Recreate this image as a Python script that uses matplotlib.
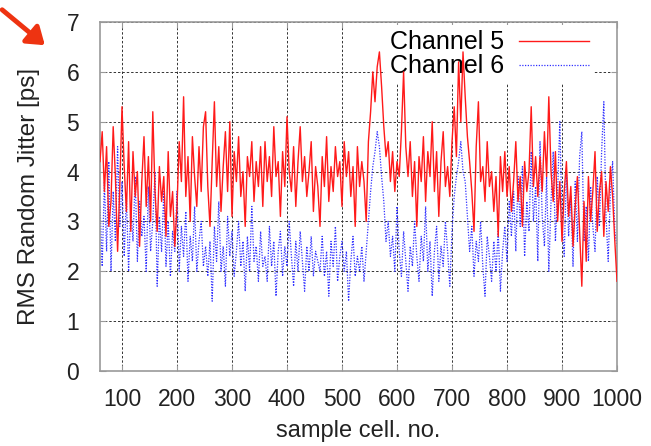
import numpy as np
import matplotlib
matplotlib.use("Agg")
import matplotlib.pyplot as plt
from matplotlib.patches import FancyArrowPatch

# sample cells, read every 4 cells off the picture
cells = np.arange(60, 1001, 4)

# channel 5, RMS random jitter [ps]
ch5 = [
    4.2, 4.8, 3.6, 4.5, 2.9, 3.4, 4.9, 3.9, 2.4, 3.7, 5.3, 4.1, 3.2, 4.6, 2.8, 4.4, 3.5, 4.0, 2.5, 3.8, 4.7, 3.3, 4.3, 3.0, 5.2,
    3.6, 2.8, 4.1, 3.4, 3.9, 2.7, 4.4, 3.1, 3.6, 2.5, 3.3, 4.6, 3.8, 5.5, 3.5, 4.3, 3.0, 4.7, 3.9, 3.3, 4.5, 3.6, 4.9, 5.2, 3.7,
    2.9, 4.2, 5.4, 3.7, 4.5, 3.2, 4.1, 4.8, 3.6, 5.0, 3.1, 4.4, 3.8, 4.7, 3.5, 4.0, 2.9, 4.3, 3.9, 4.6, 3.4, 4.2, 3.7, 4.5, 3.3,
    4.6, 3.8, 4.3, 3.5, 4.9, 3.9, 4.2, 3.1, 4.4, 3.7, 5.1, 4.0, 3.6, 4.5, 3.3, 4.2, 4.9, 3.8, 4.3, 3.5, 4.0, 4.6, 3.2, 4.1, 3.7,
    2.9, 4.3, 3.7, 4.7, 3.4, 4.1, 3.6, 4.5, 3.9, 4.2, 3.3, 4.6, 3.9, 4.4, 3.5, 4.1, 2.9, 4.5, 3.7, 4.2, 3.8, 3.0, 4.6, 5.2, 6.0,
    5.4, 6.1, 6.4, 5.7, 4.9, 4.3, 4.6, 3.8, 4.4, 3.6, 4.2, 3.9, 4.8, 6.0, 4.5, 3.9, 4.6, 3.5, 4.2, 2.9, 4.3, 3.8, 4.7, 3.4, 4.4,
    3.9, 5.0, 3.6, 4.4, 3.1, 4.2, 4.8, 3.7, 4.1, 3.5, 4.6, 5.3, 4.3, 6.2, 5.0, 6.4, 5.5, 4.7, 4.2, 3.6, 2.8, 4.5, 5.4, 3.8, 4.1,
    3.4, 4.6, 3.7, 4.0, 3.2, 3.9, 2.7, 4.3, 3.6, 4.4, 3.5, 4.1, 3.2, 3.8, 4.6, 3.4, 3.9, 2.9, 4.2, 3.6, 4.0, 5.3, 3.7, 4.3, 3.5,
    4.3, 3.6, 4.8, 3.9, 5.5, 4.0, 3.4, 4.4, 3.0, 3.8, 2.6, 3.6, 4.2, 3.1, 3.7, 2.5, 3.3, 3.9, 2.8, 1.7, 3.4, 2.2, 3.9, 3.0, 3.6,
    4.4, 2.8, 3.6, 4.0, 2.7, 3.8, 3.2, 4.1, 3.5, 2.6, 1.8,
]

# channel 6
ch6 = [
    3.3, 2.1, 3.8, 2.4, 4.2, 2.0, 3.6, 2.6, 4.5, 2.9, 3.8, 2.3, 3.5, 2.0, 3.3, 2.6, 3.9, 2.2, 3.4, 2.7, 3.1, 2.0, 3.7, 2.4, 3.0,
    4.0, 1.7, 3.1, 2.4, 3.6, 2.1, 3.0, 1.9, 2.8, 2.4, 3.6, 2.0, 2.9, 2.3, 3.2, 1.8, 2.7, 2.2, 3.3, 2.0, 2.6, 3.0, 2.1, 2.5, 1.9,
    2.6, 1.4, 2.9, 2.2, 3.4, 2.0, 2.5, 1.7, 3.1, 2.3, 2.8, 1.9, 2.4, 3.0, 2.1, 2.6, 1.6, 2.7, 2.0, 3.3, 2.2, 2.5, 1.8, 2.8, 2.1,
    2.3, 1.8, 2.9, 2.1, 2.6, 1.5, 2.4, 2.8, 1.9, 2.5, 2.1, 3.0, 2.3, 1.7, 2.6, 2.0, 2.8, 2.2, 1.6, 2.5, 2.0, 2.7, 1.9, 2.4, 2.2,
    2.0, 2.7, 1.9, 2.4, 1.5, 2.6, 2.1, 2.9, 1.8, 2.3, 2.6, 2.0, 2.4, 1.4, 2.2, 2.7, 1.9, 2.3, 2.0, 2.5, 1.8, 2.4, 3.0, 3.6, 4.1,
    4.4, 4.8, 4.5, 3.9, 3.4, 2.6, 3.0, 2.3, 2.7, 2.0, 3.3, 2.4, 1.9, 2.8, 2.2, 1.6, 2.5, 2.1, 3.0, 2.3, 1.8, 2.7, 2.2, 3.3, 2.0,
    2.6, 1.5, 2.4, 2.9, 1.8, 2.5, 2.1, 3.0, 2.4, 1.7, 2.8, 3.5, 3.9, 4.2, 4.6, 4.0, 3.8, 3.1, 2.4, 2.9, 1.9, 2.6, 2.2, 3.0, 2.1,
    1.5, 2.7, 2.3, 1.8, 2.6, 2.0, 2.8, 1.6, 2.4, 2.9, 2.2, 3.4, 2.7, 3.6, 2.4, 3.9, 2.9, 4.1, 2.3, 3.4, 2.8, 4.4, 3.0, 3.7, 2.2,
    4.6, 3.1, 2.5, 3.9, 2.0, 3.4, 4.4, 2.6, 3.6, 5.0, 3.0, 2.3, 4.0, 2.7, 3.5, 2.1, 3.8, 2.6, 4.3, 4.8, 2.6, 3.3, 2.2, 3.7, 2.9,
    2.4, 3.9, 2.9, 4.4, 5.4, 3.1, 2.2, 3.6, 4.2, 2.8, 2.5,
]

xticks = [100, 200, 300, 400, 500, 600, 700, 800, 900, 1000]
yticks = [0, 1, 2, 3, 4, 5, 6, 7]

plt.rcParams["font.family"] = ["Liberation Sans", "DejaVu Sans"]

fig = plt.figure(figsize=(6.51, 4.46), dpi=100)
ax = fig.add_axes([0.1536, 0.1682, 0.7942, 0.7825])

ax.plot(cells, ch5, color="#ff1a1a", lw=1.0, label="Channel 5", zorder=3)
ax.plot(cells, ch6, color="#3030ff", lw=0.9, ls=(0, (1, 1.2)), label="Channel 6", zorder=2.5)

ax.set_xlim(60, 1000)
ax.set_ylim(0, 7)
ax.set_xticks(xticks)
ax.set_yticks(yticks)
ax.tick_params(direction="in", length=4, top=True, right=True,
               labelsize=16.5, colors="#999999", labelcolor="#222222")
ax.tick_params(axis="x", pad=12)
ax.tick_params(axis="y", pad=15)
for s in ax.spines.values():
    s.set_color("#999999")
    s.set_linewidth(1.2)

ax.set_axisbelow(True)
ax.grid(True, color="#333333", ls=(0, (2.5, 2)), lw=0.7)

ax.set_xlabel("sample cell. no.", fontsize=17, color="#222222", labelpad=7)
ax.set_ylabel("RMS Random Jitter [ps]", fontsize=17.5, color="#222222")
ax.yaxis.set_label_coords(-0.117, 0.5)

leg = ax.legend(loc="upper right", markerfirst=False, frameon=True, fontsize=18,
                handlelength=2.8, handletextpad=0.6, labelspacing=0.0,
                borderpad=0.2, borderaxespad=0.0, fancybox=False, framealpha=1,
                bbox_to_anchor=(0.955, 0.99))
leg.get_frame().set_edgecolor("none")
leg.set_zorder(1)

# red arrow in the top-left corner
fig.patches.append(FancyArrowPatch(
    (0 / 651, 1 - 8 / 446), (47 / 651, 1 - 47 / 446), transform=fig.transFigure,
    arrowstyle="-|>,head_length=10,head_width=7", color="#ee3311", lw=3.5,
    mutation_scale=1))

fig.savefig("out.png", dpi=100)
